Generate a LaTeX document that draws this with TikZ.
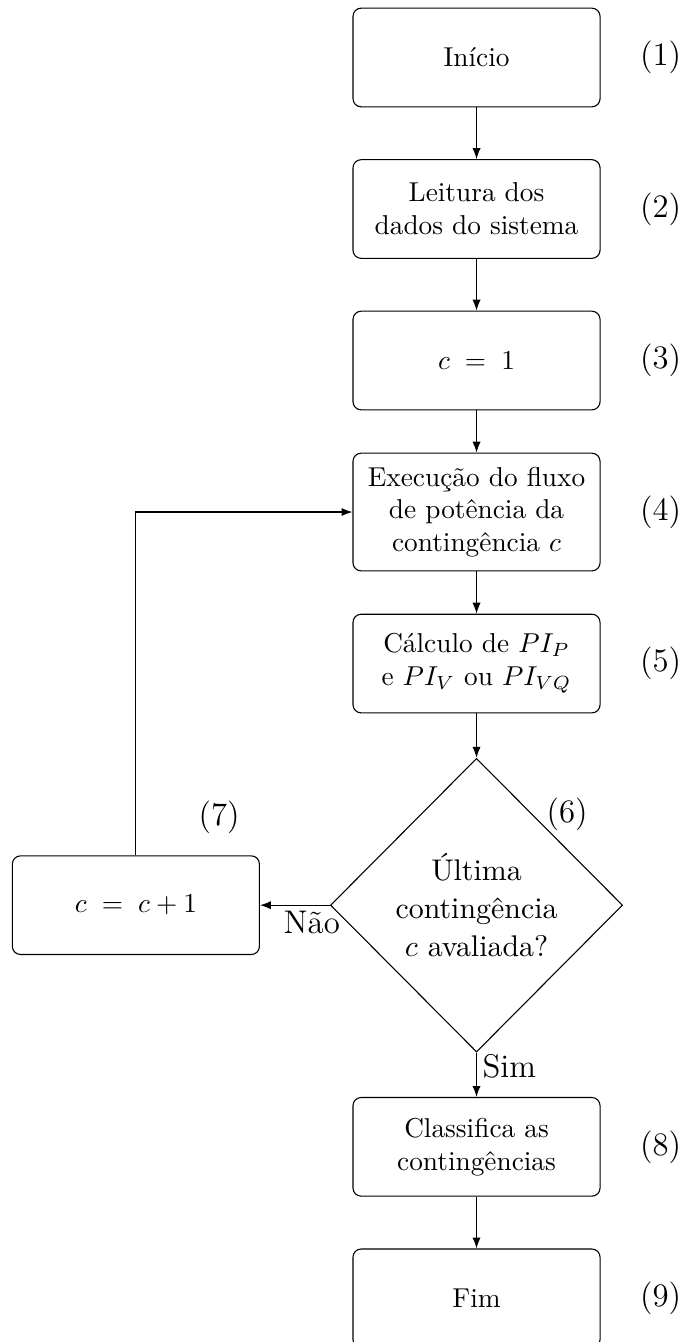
\documentclass[tikz,border=0pt]{standalone}
\usepackage{tikz}
\usetikzlibrary{arrows.meta,positioning,shapes.geometric,calc}
\tikzset{
  stepbox/.style={
    rectangle, rounded corners=3pt, draw=black,
    minimum width=3.18cm, minimum height=1.27cm,
    align=center, inner sep=5pt
  },
  decisionbox/.style={
    diamond, draw=black, aspect=1,
    minimum width=3.76cm, minimum height=3.78cm,
    align=center, inner sep=1pt,
    font=\fontsize{10.95}{14}\selectfont
  },
  steplabel/.style={
    font=\large, inner sep=0pt
  },
  branchlabel/.style={
    font=\large, inner sep=2pt
  },
  flowarrow/.style={
    -{Latex[length=4pt, width=3pt]}
  },
}

\begin{document}
\begin{tikzpicture}
  \useasboundingbox (0,0) rectangle (8.816,-17.272);
  \node[stepbox] at (6.133,-0.74) (inicio) {In\'icio};
  \node[stepbox] at ([yshift=-1.95cm]inicio) (leitura) {Leitura dos\\dados do sistema};
  \node[stepbox] at ([yshift=-1.95cm]leitura) (cinit) {$c \;=\; 1$};
  \node[stepbox] at ([yshift=-1.95cm]cinit) (fluxo) {Execu\c{c}\~ao do fluxo\\de pot\^encia da\\conting\^encia $c$};
  \node[stepbox] at ([yshift=-1.95cm]fluxo) (calculo) {C\'alculo de $PI_P$\\e $PI_V$ ou $PI_{VQ}$};
  \node[decisionbox] at ([yshift=-3.11cm]calculo) (ultima) {\'Ultima\\conting\^encia\\$c$ avaliada?};
  \node[stepbox, left=0.9cm of ultima] (cinc) {$c \;=\; c+1$};
  \node[stepbox] at ([yshift=-3.11cm]ultima) (classif) {Classifica as\\conting\^encias};
  \node[stepbox] at ([yshift=-1.95cm]classif) (fim) {Fim};

  % step numbers
  \node[steplabel] at ([xshift=2.37cm]inicio) (n1) {(1)};
  \node[steplabel] at ([xshift=2.37cm]leitura) (n2) {(2)};
  \node[steplabel] at ([xshift=2.37cm]cinit) (n3) {(3)};
  \node[steplabel] at ([xshift=2.37cm]fluxo) (n4) {(4)};
  \node[steplabel] at ([xshift=2.37cm]calculo) (n5) {(5)};
  \node[steplabel] at ([xshift=1.165cm, yshift=1.17cm]ultima) (n6) {(6)};
  \node[steplabel] at ([xshift=1.07cm, yshift=1.13cm]cinc) (n7) {(7)};
  \node[steplabel] at ([xshift=2.37cm]classif) (n8) {(8)};
  \node[steplabel] at ([xshift=2.37cm]fim) (n9) {(9)};

  \draw[flowarrow] (inicio) -- (leitura);
  \draw[flowarrow] (leitura) -- (cinit);
  \draw[flowarrow] (cinit) -- (fluxo);
  \draw[flowarrow] (fluxo) -- (calculo);
  \draw[flowarrow] (calculo) -- (ultima);
  \draw[flowarrow] (ultima.west) -- node[branchlabel, below, pos=0.26] {N\~ao} (cinc);
  \draw[flowarrow] (cinc.north) |- (fluxo.west);
  \draw[flowarrow] (ultima.south) -- node[branchlabel, right, pos=0.3] {Sim} (classif);
  \draw[flowarrow] (classif) -- (fim);
\end{tikzpicture}
\end{document}
